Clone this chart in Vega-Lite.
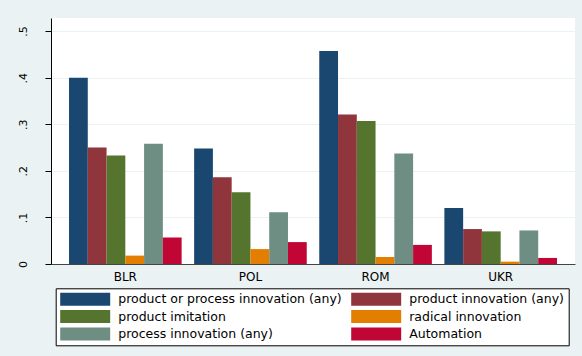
{
  "$schema": "https://vega.github.io/schema/vega-lite/v6.json",
  "width": 524,
  "height": 246,
  "autosize": {"type": "none"},
  "padding": {"left": 51, "top": 18, "right": 7, "bottom": 92},
  "background": "#eaf2f3",
  "data": {
    "values": [
      {"country": "BLR", "measure": "product or process innovation (any)", "value": 0.400},
      {"country": "BLR", "measure": "product innovation (any)", "value": 0.250},
      {"country": "BLR", "measure": "product imitation", "value": 0.233},
      {"country": "BLR", "measure": "radical innovation", "value": 0.018},
      {"country": "BLR", "measure": "process innovation (any)", "value": 0.258},
      {"country": "BLR", "measure": "Automation", "value": 0.057},
      {"country": "POL", "measure": "product or process innovation (any)", "value": 0.248},
      {"country": "POL", "measure": "product innovation (any)", "value": 0.186},
      {"country": "POL", "measure": "product imitation", "value": 0.154},
      {"country": "POL", "measure": "radical innovation", "value": 0.032},
      {"country": "POL", "measure": "process innovation (any)", "value": 0.111},
      {"country": "POL", "measure": "Automation", "value": 0.047},
      {"country": "ROM", "measure": "product or process innovation (any)", "value": 0.457},
      {"country": "ROM", "measure": "product innovation (any)", "value": 0.321},
      {"country": "ROM", "measure": "product imitation", "value": 0.307},
      {"country": "ROM", "measure": "radical innovation", "value": 0.015},
      {"country": "ROM", "measure": "process innovation (any)", "value": 0.237},
      {"country": "ROM", "measure": "Automation", "value": 0.041},
      {"country": "UKR", "measure": "product or process innovation (any)", "value": 0.120},
      {"country": "UKR", "measure": "product innovation (any)", "value": 0.075},
      {"country": "UKR", "measure": "product imitation", "value": 0.070},
      {"country": "UKR", "measure": "radical innovation", "value": 0.005},
      {"country": "UKR", "measure": "process innovation (any)", "value": 0.072},
      {"country": "UKR", "measure": "Automation", "value": 0.013}
    ]
  },
  "mark": {"type": "bar"},
  "encoding": {
    "x": {
      "field": "country",
      "type": "nominal",
      "sort": ["BLR", "POL", "ROM", "UKR"],
      "scale": {"paddingInner": 0.1, "paddingOuter": 0.144},
      "axis": {
        "title": null,
        "labelAngle": 0,
        "ticks": false,
        "domainColor": "#444444",
        "domainWidth": 1,
        "labelPadding": 7,
        "labelFont": "DejaVu Sans",
        "labelFontSize": 12,
        "labelColor": "#000000",
        "grid": false
      }
    },
    "xOffset": {
      "field": "measure",
      "type": "nominal",
      "sort": ["product or process innovation (any)", "product innovation (any)", "product imitation", "radical innovation", "process innovation (any)", "Automation"],
      "scale": {"paddingInner": 0, "paddingOuter": 0}
    },
    "y": {
      "field": "value",
      "type": "quantitative",
      "scale": {"domain": [0, 0.528], "nice": false, "zero": true},
      "axis": {
        "title": null,
        "values": [0, 0.1, 0.2, 0.3, 0.4, 0.5],
        "labelExpr": "datum.value == 0 ? '0' : replace(format(datum.value, '.1f'), '0.', '.')",
        "labelAngle": -90,
        "labelAlign": "center",
        "labelBaseline": "alphabetic",
        "labelPadding": 19,
        "labelFont": "DejaVu Sans",
        "labelFontSize": 11,
        "labelColor": "#000000",
        "domainColor": "#000000",
        "tickColor": "#000000",
        "tickSize": 6,
        "grid": true,
        "gridColor": "#eaf2f3",
        "gridWidth": 1
      }
    },
    "color": {
      "field": "measure",
      "type": "nominal",
      "sort": ["product or process innovation (any)", "product innovation (any)", "product imitation", "radical innovation", "process innovation (any)", "Automation"],
      "scale": {
        "domain": ["product or process innovation (any)", "product innovation (any)", "product imitation", "radical innovation", "process innovation (any)", "Automation"],
        "range": ["#1a476f", "#90353b", "#55752f", "#e37e00", "#6e8e84", "#c10534"]
      },
      "legend": {
        "orient": "none",
        "legendX": 4.7,
        "legendY": 270.3,
        "direction": "horizontal",
        "columns": 2,
        "title": null,
        "fillColor": "#ffffff",
        "strokeColor": "#000000",
        "padding": 4.5,
        "symbolType": "M-1,-1H6.69V1H-1Z",
        "symbolSize": 169,
        "symbolStrokeWidth": 0,
        "symbolOpacity": 1,
        "labelFont": "DejaVu Sans",
        "labelFontSize": 12.5,
        "labelColor": "#000000",
        "labelOffset": 45,
        "labelLimit": 400,
        "columnPadding": 9,
        "rowPadding": 4.3
      }
    }
  },
  "config": {
    "view": {"fill": "#ffffff", "stroke": null}
  }
}
